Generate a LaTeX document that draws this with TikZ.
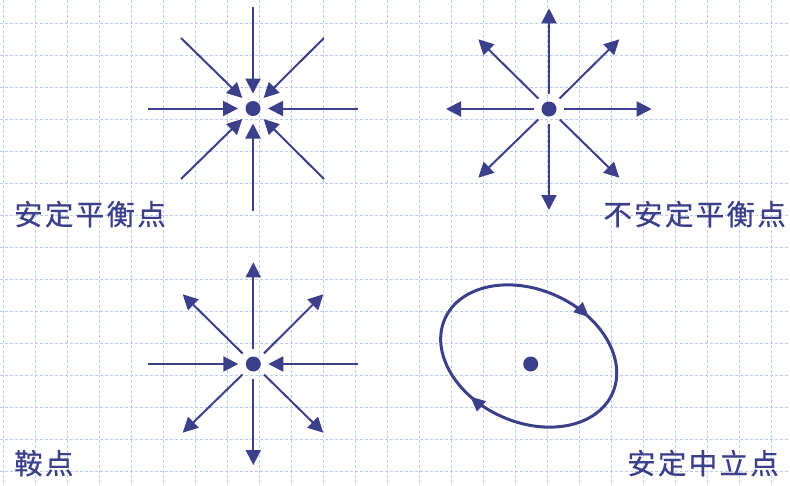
\documentclass[tikz,border=0pt]{standalone}
\usepackage{fontspec}
\newfontfamily\cjk[LetterSpace=8,FakeBold=0.6]{Noto Sans CJK SC}
\usetikzlibrary{arrows.meta,decorations.markings}
\definecolor{mainblue}{RGB}{60,63,138}
\definecolor{gridblue}{RGB}{188,203,242}
\begin{document}
\begin{tikzpicture}[x=1pt,y=-1pt,
  gridline/.style={gridblue, line width=1pt, dash pattern=on 3pt off 2pt},
  eqdot/.style={circle, fill=mainblue, inner sep=0pt, minimum size=15pt, outer sep=7.5pt},
  flow/.style={mainblue, line width=2pt, -{Triangle[length=15pt,width=15pt]}},
  orbit/.style={mainblue, line width=3pt},
  lbl/.style={text=mainblue, font=\cjk\fontsize{28.5}{32}\selectfont, inner sep=0pt}
]
\useasboundingbox (0,0) rectangle (790,485);
\fill[white] (0,0) rectangle (790,485);
\foreach \k in {0,...,24} \draw[gridline] (3+32*\k,0) -- (3+32*\k,485);
\foreach \k in {0,...,14} \draw[gridline] (0,23.3+32*\k) -- (790,23.3+32*\k);

% stable equilibrium
\node[eqdot] (s) at (253,108.5) {};
\coordinate (sN) at (253,7);
\coordinate (sS) at (253,210.7);
\coordinate (sW) at (148,108.5);
\coordinate (sE) at (358,108.5);
\coordinate (sNW) at (181,38);
\coordinate (sNE) at (324,38);
\coordinate (sSW) at (181,179);
\coordinate (sSE) at (324,179);
\foreach \c in {sN,sS,sW,sE,sNW,sNE,sSW,sSE} \draw[flow] (\c) -- (s);

% unstable equilibrium
\node[eqdot] (u) at (549,109) {};
\coordinate (uN) at (549,8.3);
\coordinate (uS) at (549,210);
\coordinate (uW) at (446,109);
\coordinate (uE) at (651.7,109);
\coordinate (uNW) at (478.3,39.3);
\coordinate (uNE) at (619.3,39.3);
\coordinate (uSW) at (478.3,177.7);
\coordinate (uSE) at (619.3,177.7);
\foreach \c in {uN,uS,uW,uE,uNW,uNE,uSW,uSE} \draw[flow] (u) -- (\c);

% saddle
\node[eqdot] (d) at (253.3,364) {};
\coordinate (dN) at (253.3,262.3);
\coordinate (dS) at (253.3,465);
\coordinate (dW) at (148.3,364);
\coordinate (dE) at (358.3,364);
\coordinate (dNW) at (182.7,294.3);
\coordinate (dNE) at (323.3,294.3);
\coordinate (dSW) at (182.7,432.7);
\coordinate (dSE) at (323.3,432.7);
\foreach \c in {dW,dE} \draw[flow] (\c) -- (d);
\foreach \c in {dN,dS,dNW,dNE,dSW,dSE} \draw[flow] (d) -- (\c);

% center
\node[eqdot] (c) at (530.7,364) {};
\draw[orbit, rotate around={-24:(528.7,356)}, postaction={decorate},
  decoration={markings,
    mark=at position 0.325 with {\arrow{Triangle[length=15pt,width=13pt]}},
    mark=at position 0.83 with {\arrow{Triangle[length=15pt,width=13pt]}}}]
  (528.7,356) ellipse [x radius=91.7, y radius=66.3];

% labels
\node[lbl, anchor=base west] (l1) at (14,225) {安定平衡点};
\node[lbl, anchor=base east] (l2) at (786,225) {不安定平衡点};
\node[lbl, anchor=base west] (l3) at (14,474) {鞍点};
\node[lbl, anchor=base east] (l4) at (779,474) {安定中立点};
\end{tikzpicture}
\end{document}
